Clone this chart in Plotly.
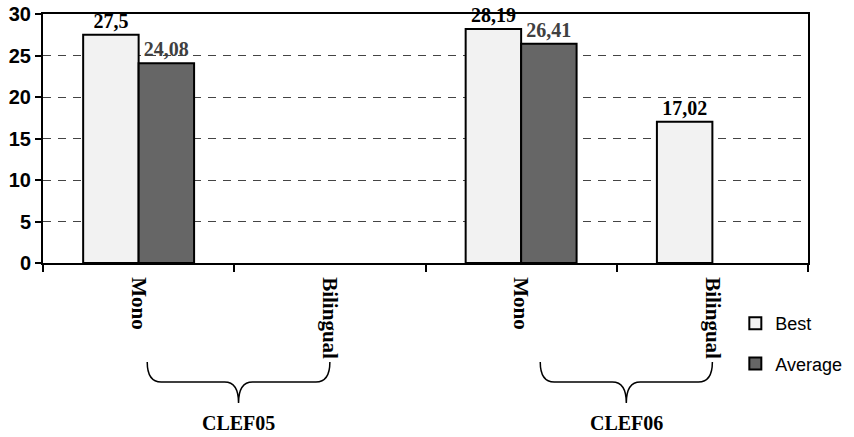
import plotly.graph_objects as go

categories = ["CLEF05 Mono", "CLEF05 Bilingual", "CLEF06 Mono", "CLEF06 Bilingual"]
tick_labels = ["Mono", "Bilingual", "Mono", "Bilingual"]
best = [27.5, None, 28.19, 17.02]
average = [24.08, None, 26.41, None]
groups = ["CLEF05", "CLEF06"]
brace_start = [0.045, 0.1]


def fmt(v):
    return "" if v is None else "<b>" + str(v).replace(".", ",") + "</b>"


fig = go.Figure()
fig.add_trace(go.Bar(
    x=categories, y=best, name="Best",
    marker=dict(color="#f2f2f2", line=dict(color="black", width=2)),
    text=[fmt(v) for v in best], textposition="outside",
    textfont=dict(family="Liberation Serif", size=20, color="black"),
    cliponaxis=False, legendgroup="a",
))
fig.add_trace(go.Bar(
    x=categories, y=average, name="Average",
    marker=dict(color="#666666", line=dict(color="black", width=2)),
    text=[fmt(v) for v in average], textposition="outside",
    textfont=dict(family="Liberation Serif", size=20, color="#404040"),
    cliponaxis=False, legendgroup="b",
))

L, R, T, B = 43, 46, 14, 174
W, H = 854, 437
pw, ph = W - L - R, H - T - B


def px_x(idx):
    return (idx + 0.5) / len(categories)


def py(y):
    return (H - B - y) / ph


shapes = []
for gi, g in enumerate(groups):
    i0 = gi * 2
    xa = px_x(i0 + brace_start[gi])
    xb = px_x(i0 + 1.0)
    xm = (xa + xb) / 2
    yt, ym, yb = py(362), py(382), py(403)
    dx = 14 / pw
    path = (f"M{xa},{yt} Q{xa},{ym} {xa+dx},{ym} L{xm-dx},{ym} "
            f"Q{xm},{ym} {xm},{yb} Q{xm},{ym} {xm+dx},{ym} "
            f"L{xb-dx},{ym} Q{xb},{ym} {xb},{yt}")
    shapes.append(dict(type="path", xref="paper", yref="paper", path=path,
                       line=dict(color="black", width=1.5)))
    fig.add_annotation(x=xm, y=py(423), xref="paper", yref="paper", text=f"<b>{g}</b>",
                       xanchor="center", yanchor="middle",
                       showarrow=False, font=dict(family="Liberation Serif", size=20, color="black"))

fig.update_layout(
    width=W, height=H, margin=dict(l=L, r=R, t=T, b=B, autoexpand=False),
    paper_bgcolor="white", plot_bgcolor="white",
    barmode="group", bargap=0.42, bargroupgap=0,
    shapes=shapes,
    legend=dict(x=0.905, y=py(305), xanchor="left", yanchor="top",
                font=dict(family="Liberation Sans", size=18, color="black"),
                traceorder="grouped", tracegroupgap=14, bgcolor="rgba(0,0,0,0)",
                itemwidth=30),
    xaxis=dict(
        type="category", tickvals=categories, ticktext=[f"<b>{t}</b>" for t in tick_labels],
        tickangle=90, tickson="boundaries", ticks="outside", ticklen=7, tickwidth=2,
        tickcolor="black", showline=True, linecolor="black", linewidth=2, mirror=True,
        showgrid=False, range=[-0.5, 3.5], ticklabelstandoff=8,
        tickfont=dict(family="Liberation Serif", size=21, color="black"),
    ),
    yaxis=dict(
        range=[0, 30], dtick=5, ticks="outside", ticklen=6, tickwidth=2, tickcolor="black",
        showline=True, linecolor="black", linewidth=2, mirror=True,
        showgrid=True, gridcolor="#444444", griddash="8px,7px", gridwidth=1,
        tickfont=dict(family="Liberation Sans", size=20, color="black"),
        tickprefix="<b>", ticksuffix="</b>", zeroline=False,
    ),
)

fig.write_html("out.html")
